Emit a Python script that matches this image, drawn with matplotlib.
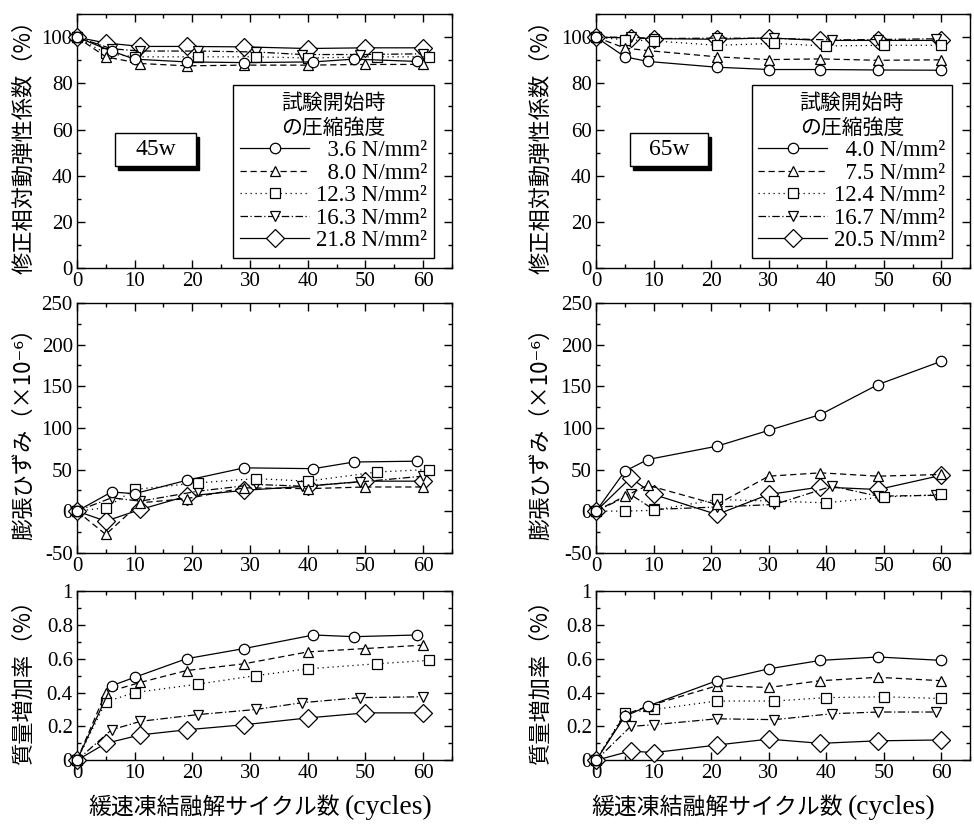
import matplotlib.pyplot as plt
from matplotlib.ticker import MultipleLocator, FuncFormatter
from matplotlib.patches import Rectangle
from matplotlib.font_manager import FontProperties

plt.rcParams['font.family'] = ['Liberation Serif', 'DejaVu Sans']
plt.rcParams['axes.unicode_minus'] = False

JP = ['Noto Sans CJK JP', 'DejaVu Sans']

# compressive strength at test start (legend labels)
strength_45w = ['3.6', '8.0', '12.3', '16.3', '21.8']
strength_65w = ['4.0', '7.5', '12.4', '16.7', '20.5']

# ---- 45w specimens ----
cycles_45w = [
    [0, 6, 10, 19, 29, 41, 48, 59],
    [0, 5, 11, 19, 29, 40, 50, 60],
    [0, 5, 10, 21, 31, 40, 52, 61],
    [0, 6, 11, 21, 31, 39, 49, 60],
    [0, 5, 11, 19, 29, 40, 50, 60],
]
modulus_45w = [
    [100, 94.0, 90.5, 89.3, 89.0, 89.3, 90.5, 89.5],
    [100, 91.5, 88.6, 87.6, 87.9, 87.9, 88.2, 88.2],
    [100, 93.0, 91.5, 91.5, 91.5, 91.0, 91.5, 91.5],
    [100, 95.0, 94.0, 94.0, 93.6, 92.5, 92.5, 92.8],
    [100, 97.5, 96.0, 96.0, 95.8, 95.1, 95.4, 95.4],
]
strain_45w = [
    [0, 23, 21, 37, 52, 51, 59, 60],
    [0, -28, 10, 15, 28, 27, 29, 29],
    [0, 4, 26, 34, 39, 36, 47, 50],
    [0, 16, 12, 24, 32, 30, 35, 42],
    [0, -12, 2, 18, 25, 30, 36, 36],
]
mass_45w = [
    [0, 0.44, 0.49, 0.60, 0.66, 0.74, 0.73, 0.74],
    [0, 0.40, 0.46, 0.53, 0.57, 0.64, 0.66, 0.68],
    [0, 0.345, 0.40, 0.45, 0.50, 0.54, 0.57, 0.59],
    [0, 0.18, 0.23, 0.27, 0.30, 0.34, 0.37, 0.375],
    [0, 0.10, 0.15, 0.18, 0.21, 0.25, 0.28, 0.28],
]

# ---- 65w specimens ----
cycles_65w = [
    [0, 5, 9, 21, 30, 39, 49, 60],
    [0, 5, 9, 21, 30, 39, 49, 60],
    [0, 5, 10, 21, 31, 40, 50, 60],
    [0, 6, 10, 21, 31, 41, 49, 59],
    [0, 6, 10, 21, 30, 39, 49, 60],
]
modulus_65w = [
    [100, 91.5, 89.5, 87.0, 86.0, 86.0, 85.8, 85.7],
    [100, 95.3, 94.2, 91.5, 90.3, 90.6, 90.0, 90.2],
    [100, 98.9, 98.4, 96.5, 97.3, 96.2, 96.5, 96.5],
    [100, 100.0, 99.4, 99.6, 99.5, 98.8, 99.0, 99.3],
    [100, 99.7, 99.4, 99.1, 99.7, 98.6, 98.6, 98.6],
]
strain_65w = [
    [0, 48, 62, 78, 97, 116, 152, 180],
    [0, 18, 31, 8, 42, 46, 42, 44],
    [0, 0, 1, 14, 12, 10, 17, 20],
    [0, 20, 2, 5, 8, 30, 18, 19],
    [0, 40, 20, -4, 20, 29, 26, 43],
]
mass_65w = [
    [0, 0.26, 0.32, 0.47, 0.54, 0.59, 0.61, 0.59],
    [0, 0.27, 0.32, 0.44, 0.43, 0.47, 0.49, 0.47],
    [0, 0.28, 0.30, 0.35, 0.35, 0.37, 0.375, 0.365],
    [0, 0.20, 0.21, 0.245, 0.24, 0.275, 0.285, 0.285],
    [0, 0.055, 0.045, 0.09, 0.125, 0.10, 0.115, 0.12],
]

markers = ['o', '^', 's', 'v', 'D']
msizes = [7.5, 7.5, 7, 7.5, 9.5]
linestyles = ['-', (0, (5, 3)), (0, (1, 3)), (0, (6, 2, 1, 2)), '-']

ylabels = ['修正相対動弾性係数（%）', '膨張ひずみ（×10⁻⁶）', '質量増加率（%）']
xlabel_jp = '緩速凍結融解サイクル数'

fig = plt.figure(figsize=(9.74, 8.30), dpi=100)

col_x = [(0.079, 0.385), (0.612, 0.384)]
rows = [(0.677, 0.306), (0.334, 0.301), (0.084, 0.204)]
ylims = [(0, 110), (-50, 250), (0, 1)]
ymajor = [20, 50, 0.2]
yminor = [10, 25, 0.1]

columns = [
    ('45w', strength_45w, cycles_45w, [modulus_45w, strain_45w, mass_45w],
     (0.101, 0.40, 0.216, 0.13), -0.112, (0.349, 0.354)),
    ('65w', strength_65w, cycles_65w, [modulus_65w, strain_65w, mass_65w],
     (0.091, 0.40, 0.208, 0.13), -0.118, (0.866, 0.870)),
]

for (cx, cw), (name, strengths, cycles, panels, box, ylab_x, xlab_x) in zip(col_x, columns):
    for r, ((ry, rh), values) in enumerate(zip(rows, panels)):
        ax = fig.add_axes([cx, ry, cw, rh])
        handles = []
        for i in range(5):
            ln, = ax.plot(cycles[i], values[i], color='black', lw=0.9,
                          linestyle=linestyles[i], marker=markers[i],
                          markersize=msizes[i], markerfacecolor='white',
                          markeredgecolor='black', markeredgewidth=0.9,
                          clip_on=False, zorder=3 + (4 - i) * 0.1)
            handles.append(ln)
        ax.set_xlim(0, 65)
        ax.set_ylim(*ylims[r])
        ax.xaxis.set_major_locator(MultipleLocator(10))
        ax.xaxis.set_minor_locator(MultipleLocator(5))
        ax.yaxis.set_major_locator(MultipleLocator(ymajor[r]))
        ax.yaxis.set_minor_locator(MultipleLocator(yminor[r]))
        ax.yaxis.set_major_formatter(FuncFormatter(lambda v, p: f'{v:g}'))
        ax.tick_params(which='both', direction='in', top=True, right=True,
                       width=1, labelsize=15, pad=3)
        ax.tick_params(which='major', length=6)
        ax.tick_params(which='minor', length=3)
        for s in ax.spines.values():
            s.set_linewidth(1)
        ax.set_ylabel(ylabels[r], fontfamily=JP, fontsize=16)
        ax.yaxis.set_label_coords(ylab_x, 0.5)

        if r == 0:
            labels = ['\u2007' * (4 - len(s)) + f'{s} N/mm²' for s in strengths]
            leg = ax.legend(handles, labels, loc='lower right',
                            bbox_to_anchor=(0.952, 0.04), borderaxespad=0,
                            title='試験開始時\nの圧縮強度',
                            title_fontproperties=FontProperties(family=JP, size=15),
                            fontsize=16.5, handlelength=3.0, handletextpad=0.3,
                            labelspacing=0.06, borderpad=0.3, fancybox=False,
                            edgecolor='black', framealpha=1)
            leg.get_frame().set_linewidth(1)
            bx, by, bw, bh = box
            ax.add_patch(Rectangle((bx + 0.008, by - 0.012), bw, bh,
                                   transform=ax.transAxes, facecolor='black',
                                   edgecolor='black', zorder=6))
            ax.add_patch(Rectangle((bx, by), bw, bh, transform=ax.transAxes,
                                   facecolor='white', edgecolor='black',
                                   lw=1, zorder=7))
            ax.text(bx + bw / 2, by + bh / 2, name, transform=ax.transAxes,
                    ha='center', va='center', fontsize=17, zorder=8)

    fig.text(xlab_x[0], 0.027, xlabel_jp, fontfamily=JP, fontsize=16.5,
             ha='right', va='center')
    fig.text(xlab_x[1], 0.027, '(cycles)', fontsize=20, ha='left', va='center')

fig.savefig('out.png', dpi=100)
